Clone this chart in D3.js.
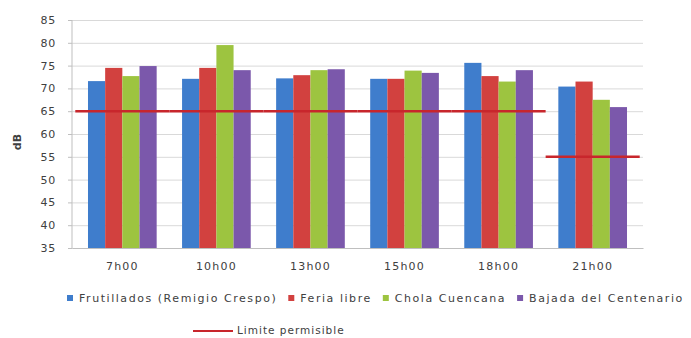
<!DOCTYPE html>
<html>
<head>
  <meta charset="utf-8">
  <script src="https://d3js.org/d3.v7.min.js"></script>
  <style>
    body { margin: 0; background: #fff; }
    text { font-family: "DejaVu Sans", sans-serif; fill: #404040; }
    .grid line { stroke: #d9d9d9; }
    .grid path { display: none; }
    .axis path, .axis line { stroke: #bfbfbf; }
  </style>
</head>
<body>
  <script>
    // data
    var hours = ["7h00", "10h00", "13h00", "15h00", "18h00", "21h00"];
    var seriesNames = ["Frutillados (Remigio Crespo)", "Feria libre", "Chola Cuencana", "Bajada del Centenario"];
    var frutillados = [71.6, 72.1, 72.2, 72.1, 75.6, 70.4];
    var feriaLibre = [74.5, 74.5, 72.9, 72.1, 72.7, 71.5];
    var cholaCuencana = [72.7, 79.5, 74.0, 73.9, 71.5, 67.5];
    var bajadaCentenario = [74.9, 74.0, 74.2, 73.4, 74.0, 65.9];
    var limite = [65, 65, 65, 65, 65, 55];
    var yTicks = [35, 40, 45, 50, 55, 60, 65, 70, 75, 80, 85];

    var colors = ["#3f7dcc", "#d2413f", "#9dc440", "#7b58ab"];
    var limitColor = "#c8262c";

    var W = 691, H = 338;
    var margin = { top: 20, right: 48, bottom: 90, left: 72 };
    var width = W - margin.left - margin.right,
      height = 248 - margin.top;

    var svg = d3.select("body").append("svg")
      .attr("width", W).attr("height", H);
    var g = svg.append("g")
      .attr("transform", "translate(" + margin.left + "," + margin.top + ")");

    var x = d3.scaleBand().domain(hours).range([0, width]).paddingInner(0.27).paddingOuter(0.17);
    var x1 = d3.scaleBand().domain(d3.range(4)).range([0, x.bandwidth()]);
    var y = d3.scaleLinear().domain([35, 85]).range([height, 0]);

    // gridlines
    g.append("g").attr("class", "grid")
      .call(d3.axisLeft(y).tickValues(yTicks).tickSize(-width).tickFormat(""));

    var allSeries = [frutillados, feriaLibre, cholaCuencana, bajadaCentenario];
    var rows = hours.map(function (h, i) {
      return { hour: h, vals: allSeries.map(function (s) { return s[i]; }) };
    });

    var groups = g.selectAll(".grp").data(rows).enter().append("g")
      .attr("class", "grp")
      .attr("transform", function (d) { return "translate(" + x(d.hour) + ",0)"; });

    groups.selectAll("rect").data(function (d) { return d.vals; }).enter().append("rect")
      .attr("x", function (d, i) { return x1(i); })
      .attr("width", x1.bandwidth())
      .attr("y", function (d) { return y(d); })
      .attr("height", function (d) { return height - y(d); })
      .attr("fill", function (d, i) { return colors[i]; });

    // axes
    var yAxis = g.append("g").attr("class", "axis")
      .call(d3.axisLeft(y).tickValues(yTicks).tickSize(4).tickPadding(12));
    yAxis.select(".domain").remove();
    yAxis.selectAll("text").style("font-size", "11px").style("letter-spacing", "0.8px");
    yAxis.append("line").attr("x1", 0).attr("x2", 0).attr("y1", 0).attr("y2", height)
      .attr("stroke", "#d9d9d9");

    var xAxis = g.append("g").attr("class", "axis")
      .attr("transform", "translate(0," + height + ")")
      .call(d3.axisBottom(x).tickSize(0).tickPadding(14));
    xAxis.select(".domain").attr("stroke", "#bfbfbf");
    xAxis.selectAll("text").style("font-size", "11px").style("letter-spacing", "1.2px");

    // limit line, one segment per category
    var step = x.step();
    g.selectAll(".lim").data(hours).enter().append("line")
      .attr("class", "lim")
      .attr("x1", function (d) { return x(d) + x.bandwidth() / 2 - step / 2; })
      .attr("x2", function (d) { return x(d) + x.bandwidth() / 2 + step / 2; })
      .attr("y1", function (d, i) { return y(limite[i]); })
      .attr("y2", function (d, i) { return y(limite[i]); })
      .attr("stroke", limitColor).attr("stroke-width", 2.5);

    // y label
    svg.append("text")
      .attr("transform", "translate(21," + (margin.top + height / 2 + 8) + ") rotate(-90)")
      .style("text-anchor", "middle").style("font-size", "11px").style("font-weight", "bold")
      .text("dB");

    // legend
    var leg = svg.append("g").attr("transform", "translate(67,298)");
    var lx = 0;
    seriesNames.forEach(function (name, i) {
      var it = leg.append("g").attr("transform", "translate(" + lx + ",0)");
      it.append("rect").attr("x", 0).attr("y", -3).attr("width", 6).attr("height", 6)
        .attr("fill", colors[i]);
      var t = it.append("text").attr("x", 12).attr("y", 0).attr("dy", "0.35em")
        .style("font-size", "11px").style("letter-spacing", "1.55px").text(name);
      lx += 12 + t.node().getComputedTextLength() + 11;
    });
    var leg2 = svg.append("g").attr("transform", "translate(193,331)");
    leg2.append("line").attr("x1", 0).attr("x2", 40).attr("y1", 0).attr("y2", 0)
      .attr("stroke", limitColor).attr("stroke-width", 2);
    leg2.append("text").attr("x", 44).attr("dy", "0.3em").style("font-size", "10.5px")
      .style("letter-spacing", "1px").text("Limite permisible");
  </script>
</body>
</html>
